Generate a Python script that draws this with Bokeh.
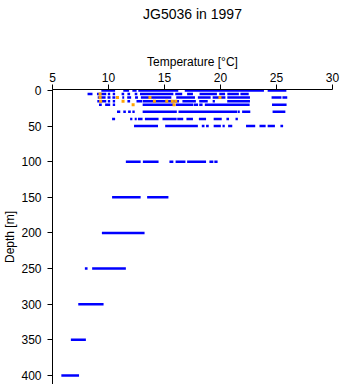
from bokeh.plotting import figure
from bokeh.models import Range1d, FixedTicker, ColumnDataSource
from bokeh.embed import file_html
from bokeh.resources import INLINE

# ---- data (temperature ranges of dense point runs, per depth) ----
title_text = "JG5036 in 1997"
x_label = "Temperature [°C]"
y_label = "Depth [m]"
x_ticks = [5, 10, 15, 20, 25, 30]
y_ticks = [0, 50, 100, 150, 200, 250, 300, 350, 400]

row_0 = [(9.36, 10.59), (11.32, 11.84), (12.13, 12.51), (12.66, 16.23), (16.81, 23.88), (24.21, 25.88)]
row_5 = [(8.13, 8.57), (8.97, 9.80), (9.94, 10.15), (10.38, 10.59), (11.17, 11.40), (11.69, 11.93),
         (12.34, 12.57), (12.81, 15.79), (15.96, 16.58), (17.02, 17.54), (18.13, 19.68), (19.89, 20.41),
         (20.61, 21.64), (21.78, 22.52)]
row_10 = [(9.04, 9.74), (9.91, 10.18), (10.35, 10.61), (11.23, 11.40), (11.67, 12.02), (12.37, 12.63),
          (12.89, 15.61), (16.05, 17.72), (17.98, 19.12), (19.30, 19.89), (20.0, 20.44), (20.61, 22.63),
          (24.56, 25.44), (25.53, 25.96)]
row_15 = [(9.0, 9.8), (9.94, 10.15), (10.38, 10.59), (11.69, 11.93), (12.5, 13.0), (13.05, 16.3),
          (16.6, 17.8), (18.1, 18.86), (19.3, 19.5), (20.6, 22.63)]
row_20 = [(9.15, 9.4), (9.7, 10.15), (10.38, 10.59), (13.05, 15.8), (16.0, 17.55), (17.6, 18.0),
          (18.1, 18.4), (18.6, 22.6), (24.6, 25.9)]
row_30 = [(10.76, 11.05), (11.32, 11.55), (11.75, 11.99), (12.13, 12.34), (13.05, 16.1), (16.25, 21.49),
          (21.54, 21.72), (21.93, 22.66), (24.65, 25.79)]
row_40 = [(10.32, 10.59), (11.93, 12.13), (12.34, 12.52), (12.63, 13.04), (13.25, 14.47), (14.82, 16.08),
          (16.14, 16.67), (16.96, 17.54), (18.07, 18.71), (19.39, 20.11), (20.53, 20.76), (21.34, 21.55)]
row_50 = [(12.28, 14.42), (15.06, 17.98), (18.33, 18.57), (18.71, 18.95), (19.39, 20.03), (20.18, 20.38),
          (20.68, 21.05), (22.28, 23.1), (23.48, 24.03), (24.21, 24.86), (25.35, 25.59)]
row_100 = [(11.55, 12.87), (13.07, 14.47), (15.44, 15.79), (15.99, 16.87), (17.02, 18.71), (19.01, 19.36),
           (19.45, 19.74)]
row_150 = [(10.32, 12.87), (13.45, 15.35)]
row_200 = [(9.41, 13.22)]
row_250 = [(7.89, 8.13), (8.54, 11.55)]
row_300 = [(7.3, 9.56)]
row_350 = [(6.64, 7.98)]
row_400 = [(5.79, 7.37)]

row_depths = [0, 5, 10, 15, 20, 30, 40, 50, 100, 150, 200, 250, 300, 350, 400]
rows = [row_0, row_5, row_10, row_15, row_20, row_30, row_40, row_50,
        row_100, row_150, row_200, row_250, row_300, row_350, row_400]

orange_depth = [5, 10, 10, 10, 10, 15, 15, 15, 15, 15, 15, 20, 20]
orange_temp = [9.25, 9.25, 10.8, 13.7, 19.95, 9.3, 11.3, 14.1, 15.2, 15.7, 16.0, 12.2, 15.85]

# ---- build ----
seg_d, seg_t0, seg_t1 = [], [], []
for d, r in zip(row_depths, rows):
    for t0, t1 in r:
        seg_d.append(d)
        seg_t0.append(t0)
        seg_t1.append(t1)
src = ColumnDataSource(dict(d=seg_d, t0=seg_t0, t1=seg_t1))
osrc = ColumnDataSource(dict(d=orange_depth, t=orange_temp))

W, H = 341, 384
BL, BR, BT, BB = 47, 9, 89, 0
px_per_m = 0.7125
top_d = -1.4
bottom_d = top_d + (H - BT - BB) / px_per_m

FONT = "Liberation Sans"

p = figure(width=W, height=H, x_range=Range1d(5, 30), y_range=Range1d(bottom_d, top_d),
           x_axis_location="above", output_backend="svg", toolbar_location=None,
           min_border_left=BL, min_border_right=BR, min_border_top=BT, min_border_bottom=BB,
           title=title_text)
p.outline_line_color = None
p.grid.visible = False
p.background_fill_color = "white"
p.border_fill_color = "white"

p.title.align = "center"
p.title.text_font = FONT
p.title.text_font_size = "14px"
p.title.text_font_style = "normal"
p.title.text_color = "black"
p.title.standoff = 0
p.title.padding = dict(left=0, right=0, top=0, bottom=30)

for ax in (p.xaxis[0], p.yaxis[0]):
    ax.major_tick_out = 5
    ax.major_tick_in = 0
    ax.minor_tick_out = 0
    ax.minor_tick_in = 0
    ax.axis_line_color = "black"
    ax.major_tick_line_color = "black"
    ax.major_label_text_font = FONT
    ax.major_label_text_font_size = "12px"
    ax.major_label_text_color = "black"
    ax.axis_label_text_font = FONT
    ax.axis_label_text_font_size = "12px"
    ax.axis_label_text_font_style = "normal"
    ax.axis_label_text_color = "black"

p.xaxis.ticker = FixedTicker(ticks=x_ticks)
p.yaxis.ticker = FixedTicker(ticks=y_ticks)
p.xaxis.major_label_standoff = 3
p.yaxis.major_label_standoff = 6
p.xaxis.axis_label = x_label
p.xaxis.axis_label_standoff = 1
p.yaxis.axis_label = y_label
p.yaxis.axis_label_standoff = 1

p.segment(x0="t0", y0="d", x1="t1", y1="d", source=src, line_color="#0000FF",
          line_width=2.5, line_cap="butt")
p.scatter(x="t", y="d", source=osrc, marker="square", size=3, fill_color="#FFA500",
          line_color=None)

open("out.html", "w").write(file_html(p, INLINE))
